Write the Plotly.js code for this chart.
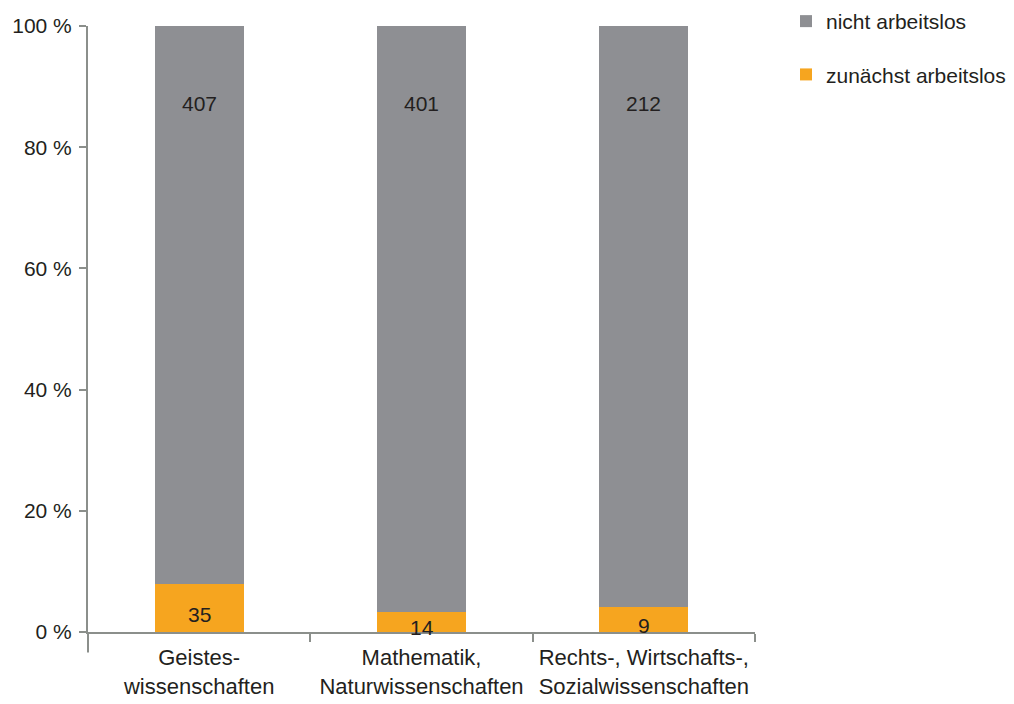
<!DOCTYPE html>
<html>
<head>
<meta charset="utf-8">
<script src="https://cdn.plot.ly/plotly-3.0.1.min.js"></script>
<style>html,body{margin:0;padding:0;background:#fff;}#chart{width:1014px;height:704px;}</style>
</head>
<body>
<div id="chart"></div>
<script>
const categories = ["Geistes-<br>wissenschaften", "Mathematik,<br>Naturwissenschaften", "Rechts-, Wirtschafts-,<br>Sozialwissenschaften"];
const zunaechstArbeitslos = [35, 14, 9];
const nichtArbeitslos = [407, 401, 212];
const yTickVals = [0, 20, 40, 60, 80, 100];
const yTickText = ["0 %", "20 %", "40 %", "60 %", "80 %", "100 %"];

const FONT = "'Liberation Sans', Arial, sans-serif";
const FS = 21;
const TXT = "#231f20";
const AXC = "#8b8f8b";

const traces = [
  {type: "bar", name: "zunächst arbeitslos", legendgroup: "z", legendrank: 2, x: categories, y: zunaechstArbeitslos,
   marker: {color: "#f6a51f"}, width: 0.4, hoverinfo: "y+name"},
  {type: "bar", name: "nicht arbeitslos", legendgroup: "n", legendrank: 1, x: categories, y: nichtArbeitslos,
   marker: {color: "#8e8f93"}, width: 0.4, hoverinfo: "y+name"}
];

const annotations = [];
categories.forEach((c, i) => {
  const tot = zunaechstArbeitslos[i] + nichtArbeitslos[i];
  const pz = 100 * zunaechstArbeitslos[i] / tot;
  annotations.push({x: c, y: pz / 2, text: String(zunaechstArbeitslos[i]), showarrow: false,
    yanchor: "middle", yshift: -6, font: {family: FONT, size: FS, color: TXT}});
  annotations.push({x: c, y: 100, text: String(nichtArbeitslos[i]), showarrow: false,
    yanchor: "top", yshift: -64, font: {family: FONT, size: FS, color: TXT}});
});

const layout = {
  width: 1014, height: 704,
  margin: {l: 88, r: 259, t: 26, b: 72, autoexpand: false},
  paper_bgcolor: "#fff", plot_bgcolor: "#fff",
  barmode: "stack", barnorm: "percent",
  font: {family: FONT, size: FS, color: TXT},
  xaxis: {type: "category", showline: true, linecolor: AXC, linewidth: 2, tickangle: 0,
    ticks: "outside", tickson: "boundaries", ticklen: 8, tickcolor: AXC, tickwidth: 2, ticklabelstandoff: 5,
    tickfont: {family: FONT, size: 22, color: TXT}, showgrid: false, zeroline: false, automargin: false},
  yaxis: {range: [0, 100], tickvals: yTickVals, ticktext: yTickText, showline: true,
    linecolor: AXC, linewidth: 2, ticks: "outside", ticklen: 7, tickcolor: AXC, tickwidth: 2, ticklabelstandoff: 3,
    showgrid: false, zeroline: false, automargin: false, tickfont: {family: FONT, size: FS, color: TXT}},
  legend: {x: 1.0465, y: 1.0413, xanchor: "left", yanchor: "top", traceorder: "grouped",
    font: {family: FONT, size: FS, color: TXT}, tracegroupgap: 23},
  shapes: [{type: "line", xref: "paper", yref: "paper", x0: 0, x1: 0, y0: 0, y1: -0.034,
    line: {color: AXC, width: 2}}],
  annotations: annotations,
  showlegend: true
};

Plotly.newPlot("chart", traces, layout, {displayModeBar: false, staticPlot: true});
</script>
</body>
</html>
